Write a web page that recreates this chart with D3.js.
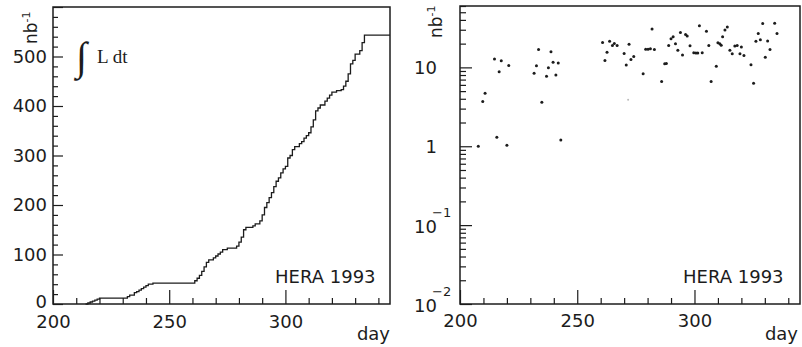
<!DOCTYPE html>
<html>
<head>
<meta charset="utf-8">
<script src="https://cdn.jsdelivr.net/npm/d3@7"></script>
<style>
  body { margin: 0; background: #fff; }
  text { font-family: "DejaVu Sans", sans-serif; fill: #1c1c1c; }
</style>
</head>
<body>
<div id="chart"></div>
<script>
// cumulative integrated luminosity (nb^-1) vs day
var cumDays = [214, 215, 216, 217, 218, 219, 220, 232, 233, 235, 236, 237, 238, 239, 240, 241, 243,
  261, 262, 263, 264, 265, 266, 267, 269, 270, 271, 272, 273, 275, 279, 280, 281, 282, 283, 286, 287,
  289, 290, 291, 292, 293, 294, 295, 296, 297, 298, 299, 300, 301, 302, 303, 304, 306, 307, 308, 309,
  310, 311, 312, 313, 314, 315, 317, 318, 319, 320, 322, 324, 325, 326, 327, 328, 329, 330, 332, 333,
  334, 345];
var cumLumi = [0, 2, 4, 6, 8, 10, 12, 15, 18, 23, 25, 28, 31, 34, 37, 40, 42,
  47, 52, 58, 66, 75, 84, 89, 93, 97, 101, 105, 110, 113, 117, 125, 135, 150, 155, 158, 162,
  168, 180, 195, 205, 215, 225, 237, 248, 255, 265, 273, 278, 295, 300, 312, 318, 324, 328, 335, 340,
  346, 358, 372, 390, 396, 402, 410, 416, 422, 428, 431, 433, 440, 450, 465, 485, 492, 505, 512, 528,
  543, 543];

// daily luminosity (nb^-1), log scale
var dayDays = [207.8, 209.7, 210.7, 214.7, 215.7, 216.7, 217.6, 220.0, 220.8,
  231.6, 232.6, 233.5, 234.9, 236.9, 237.7, 238.8, 239.7, 240.9, 241.9, 243.0,
  260.8, 261.8, 262.7, 263.8, 265.0, 265.8, 267.0, 270.0, 270.9, 272.1, 272.9, 274.1,
  278.1, 279.2, 280.2, 281.2, 281.9, 282.9, 286.0, 287.3, 288.0, 289.0, 290.0, 290.9,
  291.9, 292.9, 294.0, 294.9, 296.2, 296.9, 298.1, 299.7, 300.6, 301.4, 302.1, 303.3,
  305.1, 306.1, 307.1, 309.3, 310.0, 310.8, 311.4, 312.0, 313.0, 314.0, 315.1, 316.1,
  317.2, 318.2, 319.4, 320.0, 321.1, 324.1, 325.2, 326.2, 327.2, 328.1, 329.1, 330.2,
  331.2, 332.2, 334.2, 335.2];
var dayLumi = [1.0, 3.7, 4.7, 12.8, 1.3, 8.8, 12.1, 1.03, 10.6,
  8.4, 10.5, 16.9, 3.6, 7.7, 9.9, 15.8, 11.6, 8.0, 11.4, 1.2,
  20.7, 12.2, 15.6, 21.5, 19.0, 20.1, 19.0, 15.0, 10.7, 19.7, 12.6, 13.7,
  8.3, 17.0, 17.0, 17.2, 30.7, 16.9, 6.6, 11.1, 11.2, 19.0, 23.1, 24.5,
  20.0, 16.5, 27.6, 14.4, 26.2, 25.0, 18.8, 15.3, 15.2, 15.2, 33.6, 15.3,
  28.7, 19.0, 6.6, 10.3, 20.5, 19.9, 19.1, 24.5, 29.8, 32.6, 16.5, 14.9,
  18.6, 19.0, 14.9, 18.1, 14.1, 10.8, 6.3, 21.4, 26.8, 22.4, 36.1, 13.4,
  21.6, 16.9, 36.3, 26.8];
var faintDays = [271.7];
var faintLumi = [3.9];

var dayTicks = [200, 250, 300];
var linTicks = [0, 100, 200, 300, 400, 500];
var logTicks = [0.01, 0.1, 1, 10];

var W = 802, H = 347;
var ink = "#1c1c1c";

var svg = d3.select("#chart").append("svg")
  .attr("width", W).attr("height", H);

// ---------- left panel ----------
var xL = d3.scaleLinear().domain([200, 345]).range([53, 390]);
var yL = d3.scaleLinear().domain([0, 600]).range([304, 7]);

var gL = svg.append("g");

gL.append("g")
  .attr("transform", "translate(0,304)")
  .call(d3.axisBottom(xL).tickValues(d3.range(200, 341, 10)).tickSizeInner(-6).tickSizeOuter(0)
    .tickPadding(11).tickFormat(function(d) { return dayTicks.indexOf(d) >= 0 ? d : ""; }))
  .call(function(g) {
    g.select(".domain").remove();
    g.selectAll("line").attr("stroke", ink).attr("stroke-width", 1.2)
      .filter(function(d) { return d % 50 == 0; }).attr("y2", -14);
    g.selectAll("text").style("font-size", "18px").attr("fill", ink);
  });

gL.append("g")
  .attr("transform", "translate(53,0)")
  .call(d3.axisLeft(yL).tickValues(d3.range(0, 601, 20)).tickSizeInner(-5).tickSizeOuter(0)
    .tickPadding(6).tickFormat(function(d) { return linTicks.indexOf(d) >= 0 ? d : ""; }))
  .call(function(g) {
    g.select(".domain").remove();
    g.selectAll("line").attr("stroke", ink).attr("stroke-width", 1.2)
      .filter(function(d) { return d % 100 == 0; }).attr("x2", 10);
    g.selectAll("text").style("font-size", "18px").attr("fill", ink)
      .filter(function(d) { return d == 0; }).attr("dy", "0.22em");
  });

gL.append("rect")
  .attr("x", 53).attr("y", 7).attr("width", 390 - 53).attr("height", 304 - 7)
  .attr("fill", "none").attr("stroke", ink).attr("stroke-width", 1.5);

var cum = cumDays.map(function(d, i) { return [d, cumLumi[i]]; });
gL.append("path")
  .datum(cum)
  .attr("fill", "none").attr("stroke", ink).attr("stroke-width", 1.3)
  .attr("d", d3.line().curve(d3.curveStepAfter)
    .x(function(d) { return xL(d[0]); }).y(function(d) { return yL(d[1]); }));

// integral label
gL.append("text").attr("x", 76).attr("y", 70)
  .style("font-family", "'Liberation Serif', serif").style("font-size", "40px").text("\u222B");
gL.append("text").attr("x", 97).attr("y", 63)
  .style("font-family", "'Liberation Serif', serif").style("font-size", "19px").text("L dt");

gL.append("text").attr("x", 275).attr("y", 283).style("font-size", "18px").text("HERA 1993");
gL.append("text").attr("x", 390).attr("y", 340).attr("text-anchor", "end").style("font-size", "18px").text("day");

var nbL = gL.append("text").attr("transform", "translate(37,44) rotate(-90)").style("font-size", "17px");
nbL.append("tspan").text("nb");
nbL.append("tspan").attr("dy", -7).style("font-size", "11px").text("-1");

// ---------- right panel ----------
var xR = d3.scaleLinear().domain([200, 345]).range([460, 800]);
var yR = d3.scaleLog().domain([0.01, 60]).range([304, 6]);

var gR = svg.append("g");

gR.append("g")
  .attr("transform", "translate(0,304)")
  .call(d3.axisBottom(xR).tickValues(d3.range(200, 341, 10)).tickSizeInner(-6).tickSizeOuter(0)
    .tickPadding(10).tickFormat(function(d) { return dayTicks.indexOf(d) >= 0 ? d : ""; }))
  .call(function(g) {
    g.select(".domain").remove();
    g.selectAll("line").attr("stroke", ink).attr("stroke-width", 1.2)
      .filter(function(d) { return d % 50 == 0; }).attr("y2", -14);
    g.selectAll("text").style("font-size", "18px").attr("fill", ink);
  });

var logMinor = [];
[0.01, 0.1, 1, 10].forEach(function(dec) {
  for (var k = 1; k <= 9; k++) { if (dec * k <= 60) logMinor.push(dec * k); }
});
gR.append("g")
  .attr("transform", "translate(460,0)")
  .call(d3.axisLeft(yR).tickValues(logMinor).tickSizeInner(-6).tickSizeOuter(0).tickFormat(""))
  .call(function(g) {
    g.select(".domain").remove();
    g.selectAll("line").attr("stroke", ink).attr("stroke-width", 1.2)
      .filter(function(d) { return logTicks.indexOf(d) >= 0; }).attr("x2", 12);
  });

// decade labels
logTicks.forEach(function(v) {
  var y = yR(v);
  var exp = Math.round(Math.log10(v));
  if (exp >= 0) {
    gR.append("text").attr("x", 437).attr("y", y + 6.5).attr("text-anchor", "end")
      .style("font-size", "18px").text(v);
  } else {
    gR.append("text").attr("x", 437).attr("y", y + 8).attr("text-anchor", "end")
      .style("font-size", "18px").text("10");
    gR.append("text").attr("x", 432).attr("y", y - 8).style("font-size", "13px").text("\u2212" + (-exp));
  }
});

gR.append("rect")
  .attr("x", 460).attr("y", 6).attr("width", 800 - 460).attr("height", 304 - 6)
  .attr("fill", "none").attr("stroke", ink).attr("stroke-width", 1.5);

gR.selectAll("circle.pt")
  .data(dayDays.map(function(d, i) { return [d, dayLumi[i]]; }))
  .enter().append("circle").attr("class", "pt")
  .attr("cx", function(d) { return xR(d[0]); })
  .attr("cy", function(d) { return yR(d[1]); })
  .attr("r", 1.5).attr("fill", ink);

gR.selectAll("circle.faint")
  .data(faintDays.map(function(d, i) { return [d, faintLumi[i]]; }))
  .enter().append("circle").attr("class", "faint")
  .attr("cx", function(d) { return xR(d[0]); })
  .attr("cy", function(d) { return yR(d[1]); })
  .attr("r", 1).attr("fill", "#bbb");

gR.append("text").attr("x", 683).attr("y", 283).style("font-size", "18px").text("HERA 1993");
gR.append("text").attr("x", 798).attr("y", 340).attr("text-anchor", "end").style("font-size", "18px").text("day");

var nbR = gR.append("text").attr("transform", "translate(442,38) rotate(-90)").style("font-size", "17px");
nbR.append("tspan").text("nb");
nbR.append("tspan").attr("dy", -7).style("font-size", "11px").text("-1");
</script>
</body>
</html>
